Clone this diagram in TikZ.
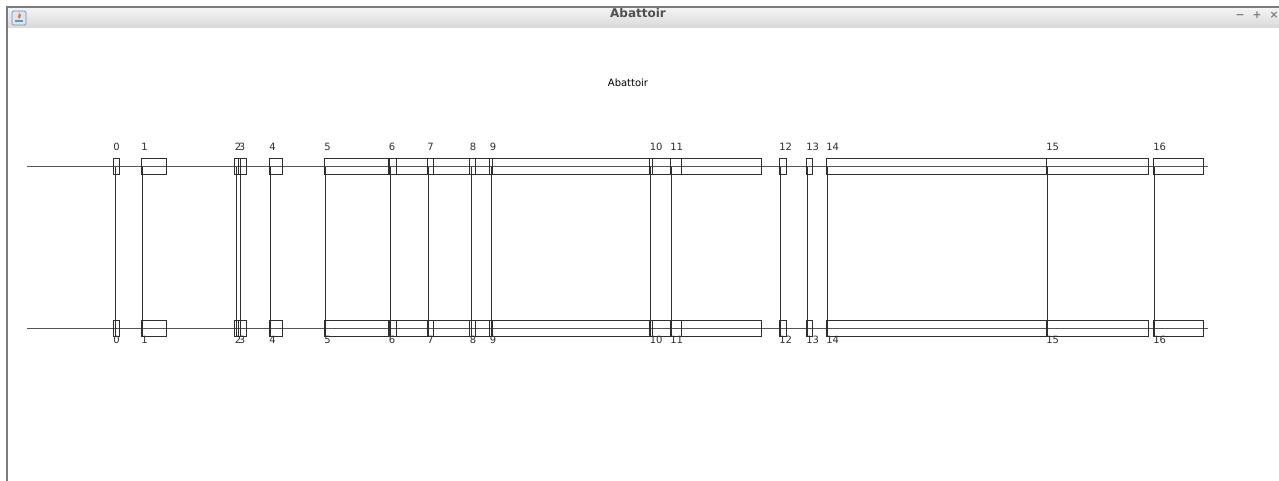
\documentclass[tikz,border=0pt]{standalone}
\usepackage{fontspec}
\setmainfont{DejaVu Sans}
\usepackage{xcolor}
\usetikzlibrary{calc}
\definecolor{frame}{HTML}{7C7C7C}
\definecolor{barTop}{HTML}{F5F5F5}
\definecolor{barBot}{HTML}{D9D9D9}
\definecolor{titleInk}{HTML}{505050}
\definecolor{track}{HTML}{555555}
\definecolor{ink}{HTML}{2E2E2E}
\definecolor{iconBlue}{HTML}{6F8FB5}
\definecolor{iconTint}{HTML}{DCE6F2}
\definecolor{iconFlame}{HTML}{E8792B}
\tikzset{
  secbox/.style={draw=ink, line width=0.75pt},
  rail/.style={draw=track, line width=0.75pt},
  tie/.style={draw=ink, line width=0.7pt},
  num/.style={inner sep=0pt, anchor=base west, font=\fontsize{7.5}{9}\selectfont, text=ink},
  heading/.style={inner sep=0pt, anchor=base, font=\fontsize{7.5}{9}\selectfont, text=black},
  wintitle/.style={inner sep=0pt, anchor=base, font=\fontsize{9}{11}\selectfont\bfseries, text=titleInk},
  winbtn/.style={inner sep=0pt, anchor=base, font=\fontsize{8}{10}\selectfont\bfseries, text=frame},
}
\begin{document}
\begin{tikzpicture}[x=0.75pt, y=-0.75pt]
  \useasboundingbox (0,0) rectangle (1279,481);
  \fill[white] (0,0) rectangle (1279,481);

  % window frame and title bar
  \shade[top color=barTop, bottom color=barBot] (7,7) rectangle (1279,28);
  \draw[frame, line width=0.9pt] (7,481) -- (7,7) -- (1279,7);
  \draw[fill=iconTint, draw=iconBlue, line width=0.6pt, rounded corners=1pt] (12,11) rectangle (26,25);
  \fill[iconFlame] (19.5,13) .. controls (22,15) and (21,18) .. (19,19) .. controls (17,17.5) and (18,15) .. (19.5,13);
  \fill[iconBlue] (15,20) rectangle (23,22.5);
  \node[wintitle] (wtitle) at (638,18) {Abattoir};
  \node[winbtn] (wmin) at (1240,19) {−};
  \node[winbtn] (wmax) at (1257,19) {+};
  \node[winbtn] (wclose) at (1274,19) {×};

  \node[heading] (caption) at (628,86.5) {Abattoir};

  % the two rails
  \coordinate (upW) at (27,167);  \coordinate (upE) at (1208,167);
  \coordinate (dnW) at (27,328);  \coordinate (dnE) at (1208,328);
  \draw[rail] (upW) -- (upE);
  \draw[rail] (dnW) -- (dnE);

  % blocks between sensors
  \foreach \l/\r in {396.5/427, 433.5/469.5, 475/489.5, 492/649.5, 652/670, 681/761} {
    \draw[secbox] (\l,159) rectangle (\r,175);
    \draw[secbox] (\l,320) rectangle (\r,336);
  }

  % sensors: number / tie x / box left / box right
  \foreach \n/\v/\l/\r in {
      0/115.5/113/119, 1/142.5/141/166.5, 2/236.5/234.5/240, 3/240.5/238.5/246.5,
      4/270.5/269/282, 5/325.5/324/389, 6/390/388.5/396.5, 7/428.5/427/433.5,
      8/471/469.5/475, 9/491/489.5/492, 10/650.5/649.5/652, 11/671.5/670/681,
      12/780.5/779/786, 13/807.5/806/812, 14/827.5/826/1046, 15/1047.5/1046/1148,
      16/1154.5/1153/1203} {
    \draw[secbox] (\l,159) rectangle (\r,175);
    \draw[secbox] (\l,320) rectangle (\r,336);
    \coordinate (up\n) at (\v,167);
    \coordinate (dn\n) at (\v,336);
    \draw[tie] (up\n) -- (dn\n);
    \node[num] (tn\n) at (\l,151) {\n};
    \node[num] (bn\n) at (\l,343.5) {\n};
  }
\end{tikzpicture}
\end{document}
